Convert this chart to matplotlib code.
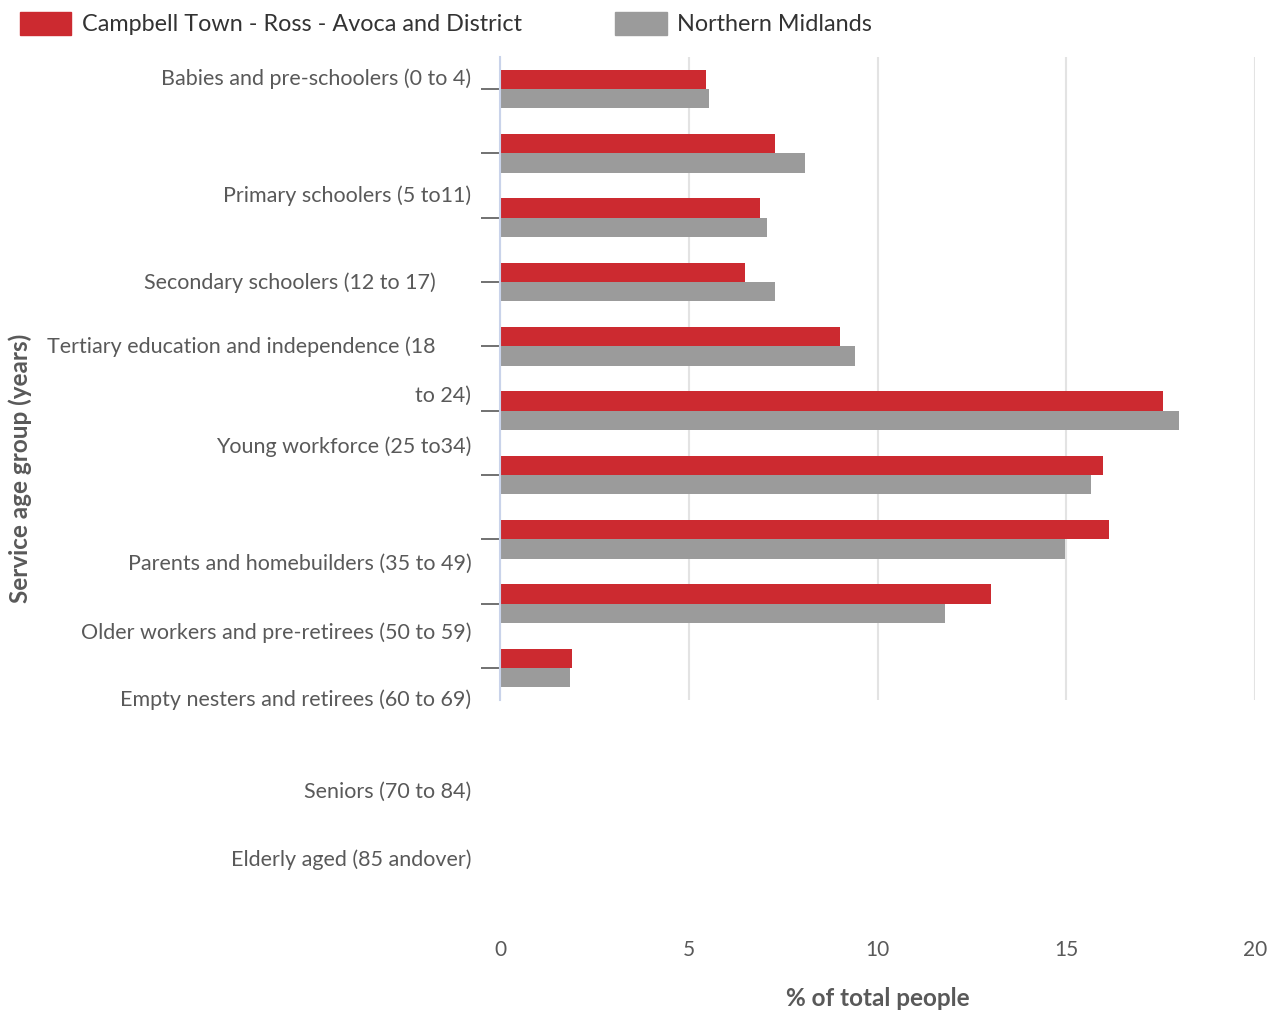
import matplotlib.pyplot as plt
from matplotlib.transforms import blended_transform_factory
from matplotlib.patches import Patch

# data
region_pct = [5.45, 7.28, 6.9, 6.5, 9.0, 17.55, 15.97, 16.13, 13.0, 1.92]
nm_pct = [5.53, 8.07, 7.06, 7.28, 9.41, 17.98, 15.65, 14.97, 11.78, 1.85]
age_labels = ['Babies and pre-schoolers (0 to 4)', 'Primary schoolers (5 to11)',
              'Secondary schoolers (12 to 17)', 'Tertiary education and independence (18',
              'to 24)', 'Young workforce (25 to34)', 'Parents and homebuilders (35 to 49)',
              'Older workers and pre-retirees (50 to 59)', 'Empty nesters and retirees (60 to 69)',
              'Seniors (70 to 84)', 'Elderly aged (85 andover)']
series_names = ['Campbell Town - Ross - Avoca and District', 'Northern Midlands']
x_ticks = [0, 5, 10, 15, 20]

# where the (misaligned) labels sit, in bar-group units, and their right edge
label_y = [-0.17, 1.65, 3.01, 4.0, 4.77, 5.56, 7.38, 8.45, 9.5, 10.93, 11.99]
label_x = [-0.038, -0.038, -0.085, -0.086, -0.038, -0.038, -0.038, -0.038, -0.038, -0.038, -0.038]

red = '#CC2A30'
grey = '#9B9B9B'
txt = '#595959'
plt.rcParams['font.family'] = ['Lato', 'DejaVu Sans']

fig = plt.figure(figsize=(12.67, 10.15), dpi=100)
ax = fig.add_axes([500 / 1267, 1 - 700 / 1015, 755 / 1267, 643 / 1015])

pos = list(range(len(region_pct)))
h = 0.3
ax.barh([p - h / 2 for p in pos], region_pct, height=h, color=red)
ax.barh([p + h / 2 for p in pos], nm_pct, height=h, color=grey)

ax.set_xlim(0, 20)
ax.set_ylim(9.5, -0.5)
ax.set_xticks(x_ticks)
ax.set_xticklabels([str(t) for t in x_ticks], fontsize=15, color=txt)
ax.tick_params(axis='x', length=0, pad=173)
ax.set_yticks(pos)
ax.set_yticklabels([])
ax.tick_params(axis='y', length=14, width=1.2, color=txt)
ax.grid(axis='x', color='#E3E3E3', linewidth=1.5)
ax.set_axisbelow(True)
for s in ['top', 'right', 'bottom']:
    ax.spines[s].set_visible(False)
ax.spines['left'].set_color('#C9D3EA')
ax.spines['left'].set_linewidth(1.5)

trans = blended_transform_factory(ax.transAxes, ax.transData)
for lab, ly, lx in zip(age_labels, label_y, label_x):
    ax.text(lx, ly, lab, transform=trans, ha='right', va='center',
            fontsize=15.5, color=txt, clip_on=False)

ax.set_xlabel('% of total people', fontsize=17.5, fontweight='bold', color=txt)
ax.xaxis.set_label_coords(0.5, -0.447)
fig.text(20 / 1267, 1 - 468 / 1015, 'Service age group (years)', rotation=90,
         ha='center', va='center', fontsize=17.5, fontweight='bold', color=txt)

handles = [Patch(color=red), Patch(color=grey)]
fig.legend(handles, series_names, loc='upper left', bbox_to_anchor=(20 / 1267, 1 - 12 / 1015),
           ncol=2, frameon=False, fontsize=16.8, handlelength=2.2, handleheight=1.15,
           handletextpad=0.45, columnspacing=4.0, borderpad=0, borderaxespad=0,
           labelcolor='#333333')

fig.savefig('out.png', dpi=100)
